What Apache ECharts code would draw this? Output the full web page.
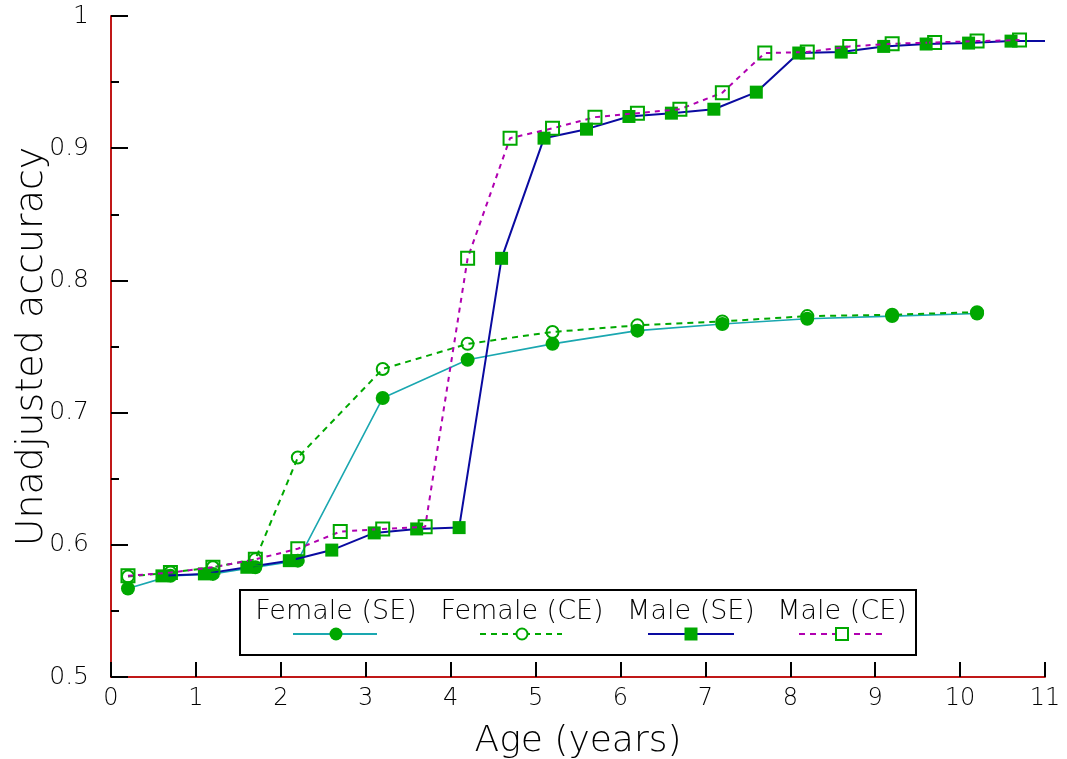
<!DOCTYPE html>
<html>
<head>
<meta charset="utf-8">
<script src="https://cdn.jsdelivr.net/npm/echarts@6/dist/echarts.min.js"></script>
<style>
html,body{margin:0;padding:0;background:#fff;}
#chart{width:1067px;height:759px;}
</style>
</head>
<body>
<div id="chart"></div>
<script>
// ---- Data ----
const femaleSEAge = [0.2, 0.7, 1.2, 1.7, 2.2, 3.2, 4.2, 5.2, 6.2, 7.2, 8.2, 9.2, 10.2];
const femaleSEAcc = [0.567, 0.5765, 0.578, 0.583, 0.588, 0.711, 0.740, 0.752, 0.762, 0.767, 0.771, 0.773, 0.775];

const femaleCEAge = [0.2, 0.7, 1.2, 1.7, 2.2, 3.2, 4.2, 5.2, 6.2, 7.2, 8.2, 9.2, 10.2];
const femaleCEAcc = [0.576, 0.579, 0.583, 0.589, 0.666, 0.733, 0.752, 0.761, 0.766, 0.769, 0.773, 0.774, 0.776];

const maleSEAge = [0.6, 1.1, 1.6, 2.1, 2.6, 3.1, 3.6, 4.1, 4.6, 5.1, 5.6, 6.1, 6.6, 7.1, 7.6, 8.1, 8.6, 9.1, 9.6, 10.1, 10.6, 11];
const maleSEAcc = [0.5765, 0.578, 0.583, 0.588, 0.596, 0.609, 0.612, 0.613, 0.8167, 0.9076, 0.9144, 0.924, 0.9265, 0.9295, 0.9424, 0.972, 0.9727, 0.977, 0.9788, 0.9795, 0.981, 0.981];
const maleSEUnmarked = [11]; // line continues to the axis end without a marker

const maleCEAge = [0.2, 0.7, 1.2, 1.7, 2.2, 2.7, 3.2, 3.7, 4.2, 4.7, 5.2, 5.7, 6.2, 6.7, 7.2, 7.7, 8.2, 8.7, 9.2, 9.7, 10.2, 10.7];
const maleCEAcc = [0.5765, 0.579, 0.583, 0.589, 0.597, 0.610, 0.612, 0.6136, 0.8167, 0.9076, 0.915, 0.9235, 0.9265, 0.9295, 0.942, 0.972, 0.9727, 0.977, 0.979, 0.980, 0.981, 0.9818];

const seriesNames = ['Female (SE)', 'Female (CE)', 'Male (SE)', 'Male (CE)'];
const xAxisTitle = 'Age (years)';
const yAxisTitle = 'Unadjusted accuracy';

// ---- Styles ----
const FONT = "'DejaVu Sans', sans-serif";
const MARK = '#00a800';
const lineColors = ['#1aa7b0', '#00a800', '#0a0aa0', '#b000b0'];

function pairs(xs, ys, unmarked) {
  return xs.map((x, i) => {
    const item = { value: [x, ys[i]] };
    if (unmarked && unmarked.indexOf(x) >= 0) item.symbol = 'none';
    return item;
  });
}

const chart = echarts.init(document.getElementById('chart'), null, { renderer: 'canvas' });

const legendY = 590, legendH = 65;
const legendItems = [
  { cx: 336, x1: 293, x2: 377, color: lineColors[0], dash: null, sym: 'circle', filled: true },
  { cx: 522, x1: 480, x2: 562, color: lineColors[1], dash: [6, 5], sym: 'circle', filled: false },
  { cx: 691, x1: 648, x2: 734, color: lineColors[2], dash: null, sym: 'rect', filled: true },
  { cx: 842, x1: 799, x2: 882, color: lineColors[3], dash: [6, 5], sym: 'rect', filled: false }
];
const graphics = [{
  type: 'rect', z: 100,
  shape: { x: 240, y: legendY, width: 676, height: legendH },
  style: { fill: '#fff', stroke: '#000', lineWidth: 2 }
}];
legendItems.forEach((it, i) => {
  graphics.push({
    type: 'text', z: 101, x: it.cx, y: 612,
    style: { text: seriesNames[i], font: "200 27px " + FONT, fill: '#000', align: 'center', verticalAlign: 'middle' }
  });
  graphics.push({
    type: 'line', z: 101,
    shape: { x1: it.x1, y1: 634, x2: it.x2, y2: 634 },
    style: { stroke: it.color, lineWidth: 2, lineDash: it.dash }
  });
  if (it.sym === 'circle') {
    graphics.push({
      type: 'circle', z: 102,
      shape: { cx: it.cx, cy: 634, r: it.filled ? 6.5 : 5.5 },
      style: it.filled ? { fill: MARK } : { fill: '#fff', stroke: MARK, lineWidth: 2 }
    });
  } else {
    graphics.push({
      type: 'rect', z: 102,
      shape: it.filled ? { x: it.cx - 6.5, y: 627.5, width: 13, height: 13 } : { x: it.cx - 6, y: 628, width: 12, height: 12 },
      style: it.filled ? { fill: MARK } : { fill: '#fff', stroke: MARK, lineWidth: 2 }
    });
  }
});

const option = {
  backgroundColor: '#fff',
  animation: false,
  grid: { left: 111, right: 22, top: 16, bottom: 82, containLabel: false, outerBoundsMode: 'none' },
  graphic: graphics,
  xAxis: {
    type: 'value', min: 0, max: 11, interval: 1,
    name: xAxisTitle, nameLocation: 'middle', nameGap: 47, nameMoveOverlap: false,
    nameTextStyle: { fontFamily: FONT, fontWeight: 200, fontSize: 36, color: '#000' },
    axisLine: { show: true, lineStyle: { color: '#c01818', width: 2 } },
    axisTick: { show: true, inside: true, length: 15, lineStyle: { color: '#000', width: 2 } },
    axisLabel: { fontFamily: FONT, fontWeight: 200, fontSize: 24, color: '#000', margin: 10 },
    splitLine: { show: false }
  },
  yAxis: {
    type: 'value', min: 0.5, max: 1, interval: 0.1,
    name: yAxisTitle, nameLocation: 'middle', nameGap: 60, nameRotate: 90, nameMoveOverlap: false,
    nameTextStyle: { fontFamily: FONT, fontWeight: 200, fontSize: 38, color: '#000' },
    axisLine: { show: true, lineStyle: { color: '#c01818', width: 2 } },
    axisTick: { show: true, inside: true, length: 17, lineStyle: { color: '#000', width: 2 } },
    minorTick: { show: true, splitNumber: 2, length: 8, lineStyle: { color: '#000', width: 2 } },
    axisLabel: {
      fontFamily: FONT, fontWeight: 200, fontSize: 25, color: '#000', margin: 22,
      formatter: v => String(+v.toFixed(1))
    },
    splitLine: { show: false }
  },
  series: [
    {
      name: seriesNames[0], type: 'line', data: pairs(femaleSEAge, femaleSEAcc),
      symbol: 'circle', symbolSize: 14, z: 2,
      lineStyle: { color: lineColors[0], width: 1.6 },
      itemStyle: { color: MARK }
    },
    {
      name: seriesNames[1], type: 'line', data: pairs(femaleCEAge, femaleCEAcc),
      symbol: 'circle', symbolSize: 12, z: 3,
      lineStyle: { color: lineColors[1], width: 2, type: [6, 5] },
      itemStyle: { color: 'rgba(255,255,255,0)', borderColor: MARK, borderWidth: 2 }
    },
    {
      name: seriesNames[2], type: 'line', data: pairs(maleSEAge, maleSEAcc, maleSEUnmarked),
      symbol: 'rect', symbolSize: 13, z: 4,
      lineStyle: { color: lineColors[2], width: 2 },
      itemStyle: { color: MARK }
    },
    {
      name: seriesNames[3], type: 'line', data: pairs(maleCEAge, maleCEAcc),
      symbol: 'rect', symbolSize: 13, z: 5,
      lineStyle: { color: lineColors[3], width: 2, type: [5, 5] },
      itemStyle: { color: 'rgba(255,255,255,0)', borderColor: MARK, borderWidth: 2 }
    }
  ]
};
chart.setOption(option);
</script>
</body>
</html>
